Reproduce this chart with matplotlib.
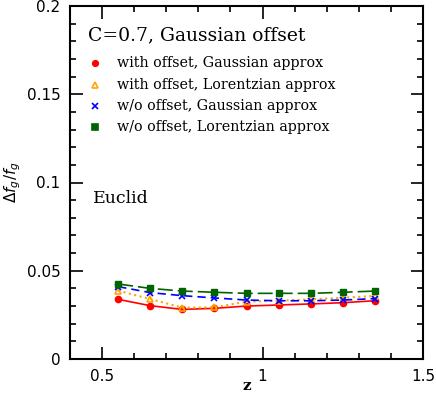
import matplotlib
matplotlib.use("Agg")
import matplotlib.pyplot as plt
from matplotlib.ticker import MultipleLocator

z = [0.55, 0.65, 0.75, 0.85, 0.95, 1.05, 1.15, 1.25, 1.35]
with_gauss = [0.0338, 0.0302, 0.0281, 0.0287, 0.0300, 0.0306, 0.0312, 0.0319, 0.0330]
with_lor = [0.0387, 0.0340, 0.0291, 0.0293, 0.0325, 0.0330, 0.0338, 0.0347, 0.0357]
wo_gauss = [0.0410, 0.0376, 0.0359, 0.0346, 0.0334, 0.0330, 0.0330, 0.0334, 0.0342]
wo_lor = [0.0425, 0.0400, 0.0385, 0.0378, 0.0372, 0.0372, 0.0372, 0.0378, 0.0385]
labels = ["with offset, Gaussian approx", "with offset, Lorentzian approx",
          "w/o offset, Gaussian approx", "w/o offset, Lorentzian approx"]

plt.rcParams['font.family'] = ['DejaVu Sans']
fig = plt.figure(figsize=(4.36, 3.97), dpi=100)
ax = fig.add_axes([70/436, 38/397, 353/436, 353/397])

ax.plot(z, with_gauss, color='red', ls='-', lw=1.2, marker='o', ms=4.5, mec='red', mfc='red')
ax.plot(z, with_lor, color='orange', ls=':', lw=1.5, marker='^', ms=5, mec='orange', mfc='none', mew=1.2)
ax.plot(z, wo_gauss, color='blue', ls=(0, (5, 3)), lw=1.2, marker='x', ms=5, mec='blue', mew=1.2)
ax.plot(z, wo_lor, color='darkgreen', ls=(0, (9, 3)), lw=1.2, marker='s', ms=4.5, mec='darkgreen', mfc='darkgreen')

ax.set_xlim(0.4, 1.5)
ax.set_ylim(0, 0.2)
ax.xaxis.set_minor_locator(MultipleLocator(0.1))
ax.yaxis.set_minor_locator(MultipleLocator(0.01))
ax.set_xticks([0.5, 1.0, 1.5])
ax.set_xticklabels(['0.5', '1', '1.5'])
ax.set_yticks([0, 0.05, 0.1, 0.15, 0.2])
ax.set_yticklabels(['0', '0.05', '0.1', '0.15', '0.2'])
ax.tick_params(which='both', direction='in', top=True, right=True, width=1.2, labelsize=11)
ax.tick_params(which='major', length=9, pad=7)
ax.tick_params(which='minor', length=4.5)
for s in ax.spines.values():
    s.set_linewidth(1.5)

ax.set_xlabel('z', fontsize=11, fontfamily='DejaVu Serif', fontweight='bold')
ax.xaxis.set_label_coords(0.5, -0.058)
ax.set_ylabel(r'$\Delta f_g / f_g$', fontsize=11)
ax.yaxis.set_label_coords(-0.133, 0.5)

tf = dict(transform=ax.transAxes, fontfamily='DejaVu Serif')
ax.text(0.051, 0.916, 'C=0.7, Gaussian offset', fontsize=13.5, va='center', ha='left', **tf)
mk = [dict(marker='o', color='red', mfc='red'),
      dict(marker='^', color='orange', mfc='none'),
      dict(marker='x', color='blue'),
      dict(marker='s', color='darkgreen', mfc='darkgreen')]
for i, (lab, m) in enumerate(zip(labels, mk)):
    yy = 0.838 - i * 0.0604
    ax.plot([0.071], [yy], transform=ax.transAxes, ls='none', ms=4, mew=1.2, clip_on=False, **m)
    ax.text(0.133, yy, lab, fontsize=10.3, va='center', ha='left', **tf)
ax.text(0.065, 0.455, 'Euclid', fontsize=12.5, va='center', ha='left', **tf)

fig.savefig('out.png', dpi=100)
